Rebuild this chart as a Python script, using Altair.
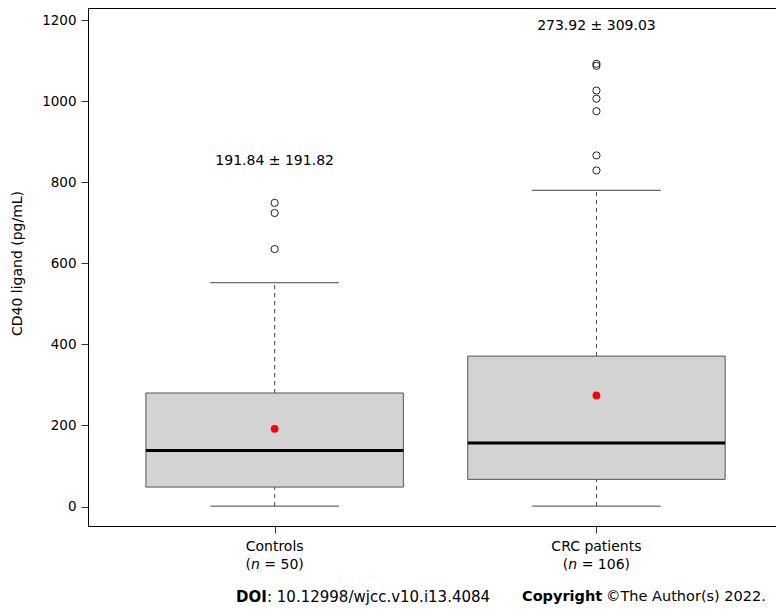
import altair as alt
import pandas as pd

# ---- data ----
groups = ["Controls", "CRC patients"]
positions = [1, 2]
n_values = [50, 106]
lower_whisker = [1, 1]
q1 = [48, 67]
median = [138, 157]
q3 = [280, 371]
upper_whisker = [552, 780]
means = [191.84, 273.92]
sds = [191.82, 309.03]
annot_y = [852, 1184]

outliers_controls = [635, 724, 749]
outliers_crc = [829, 866, 975, 1006, 1026, 1087, 1092]

y_ticks = [0, 200, 400, 600, 800, 1000, 1200]

FONT = "DejaVu Sans"
PLOT_LEFT, PLOT_TOP = 88, 8
W, H = 688, 518

stats = pd.DataFrame({
    "group": groups, "pos": positions, "n": n_values,
    "lw": lower_whisker, "q1": q1, "med": median, "q3": q3, "uw": upper_whisker,
    "mean": means, "sd": sds, "ay": annot_y,
})
stats["annot"] = [f"{m:.2f} \u00b1 {s:.2f}" for m, s in zip(means, sds)]

out = pd.DataFrame({
    "pos": [1] * len(outliers_controls) + [2] * len(outliers_crc),
    "value": outliers_controls + outliers_crc,
})

xs = alt.Scale(domain=[0.42, 0.42 + W / 321.8], nice=False, zero=False)
ys = alt.Scale(domain=[-48, 1229.6], nice=False, zero=False)

xax = alt.Axis(values=[1, 2], labels=False, ticks=True, tickSize=7, grid=False,
               domain=False, title=None, tickColor="#333")
yax = alt.Axis(values=y_ticks, format="d", grid=False, domain=False, tickSize=7, labelPadding=5,
               title="CD40 ligand (pg/mL)", titleX=17 - PLOT_LEFT, titleY=263 - PLOT_TOP,
               titleAngle=270, titleAlign="center", titleBaseline="middle",
               titleFont=FONT, titleFontSize=14, titleFontWeight="normal", titleColor="black",
               labelFont=FONT, labelFontSize=13.5, labelColor="black", tickColor="#333")

base = alt.Chart(stats).transform_calculate(
    xl="datum.pos - 0.4", xr="datum.pos + 0.4",
    cl="datum.pos - 0.2", cr="datum.pos + 0.2",
)

whisk_lo = base.mark_rule(color="#444", strokeWidth=1, strokeDash=[4, 4]).encode(
    x=alt.X("pos:Q", scale=xs, axis=xax),
    y=alt.Y("lw:Q", scale=ys, axis=yax), y2="q1:Q")
whisk_hi = base.mark_rule(color="#444", strokeWidth=1, strokeDash=[4, 4]).encode(
    x=alt.X("pos:Q", scale=xs), y=alt.Y("q3:Q", scale=ys), y2="uw:Q")
cap_lo = base.mark_rule(color="#444", strokeWidth=1).encode(
    x=alt.X("cl:Q", scale=xs), x2="cr:Q", y=alt.Y("lw:Q", scale=ys))
cap_hi = base.mark_rule(color="#444", strokeWidth=1).encode(
    x=alt.X("cl:Q", scale=xs), x2="cr:Q", y=alt.Y("uw:Q", scale=ys))
box = base.mark_rect(fill="#d3d3d3", stroke="#555", strokeWidth=1).encode(
    x=alt.X("xl:Q", scale=xs), x2="xr:Q", y=alt.Y("q1:Q", scale=ys), y2="q3:Q")
med = base.mark_rule(color="black", strokeWidth=3).encode(
    x=alt.X("xl:Q", scale=xs), x2="xr:Q", y=alt.Y("med:Q", scale=ys))
mean_pt = base.mark_circle(color="red", opacity=1, size=60).encode(
    x=alt.X("pos:Q", scale=xs), y=alt.Y("mean:Q", scale=ys))
annot = base.mark_text(font=FONT, fontSize=14, color="black", baseline="middle").encode(
    x=alt.X("pos:Q", scale=xs), y=alt.Y("ay:Q", scale=ys), text="annot:N")

outl = alt.Chart(out).mark_point(shape="circle", filled=False, color="#222",
                                 strokeWidth=1, size=52, opacity=1).encode(
    x=alt.X("pos:Q", scale=xs), y=alt.Y("value:Q", scale=ys))

layers = [box, whisk_lo, whisk_hi, cap_lo, cap_hi, med, mean_pt, outl, annot]

# category labels under the axis
cat = base.mark_text(font=FONT, fontSize=14, color="black", baseline="middle").encode(
    x=alt.X("pos:Q", scale=xs), y=alt.value(546.7 - PLOT_TOP), text="group:N")
layers.append(cat)

# "(n = ..)" with italic n
n_offsets = {1: (-23.66, -10.33), 2: (-28.11, -14.78)}
for p, nv in zip(positions, n_values):
    paren_end, eq_start = n_offsets[p]
    sub = alt.Chart(stats).transform_filter(f"datum.pos == {p}")
    yv = alt.value(565 - PLOT_TOP)
    layers.append(sub.mark_text(font=FONT, fontSize=14, color="black", baseline="middle",
                                align="right", dx=paren_end, text="(").encode(
        x=alt.X("pos:Q", scale=xs), y=yv))
    layers.append(sub.mark_text(font=FONT, fontSize=14, color="black", baseline="middle",
                                align="left", dx=paren_end, fontStyle="italic", text="n").encode(
        x=alt.X("pos:Q", scale=xs), y=yv))
    layers.append(sub.mark_text(font=FONT, fontSize=14, color="black", baseline="middle",
                                align="left", dx=eq_start, text=f"= {nv})").encode(
        x=alt.X("pos:Q", scale=xs), y=yv))

# DOI / copyright line
doi_parts = [
    ("DOI", "bold", 15, 236),
    (": 10.12998/wjcc.v10.i13.4084", "normal", 15, 267),
    ("Copyright", "bold", 14.5, 522),
    ("\u00a9The Author(s) 2022.", "normal", 14.5, 606),
]
for txt, wt, fs, px in doi_parts:
    layers.append(alt.Chart(stats).transform_filter("datum.pos == 1").mark_text(
        font=FONT, fontSize=fs, fontWeight=wt, color="black", align="left",
        baseline="middle", text=txt).encode(
        x=alt.value(px - PLOT_LEFT), y=alt.value(597 - PLOT_TOP)))

chart = alt.layer(*layers).properties(
    width=W, height=H,
    background="white",
    autosize=alt.AutoSizeParams(type="none"),
    padding={"left": PLOT_LEFT - 8, "top": PLOT_TOP - 8, "right": 0, "bottom": 82},
).configure_view(stroke="black", strokeWidth=1)

chart.save("out.html", embed_options={"renderer": "svg", "actions": False})
